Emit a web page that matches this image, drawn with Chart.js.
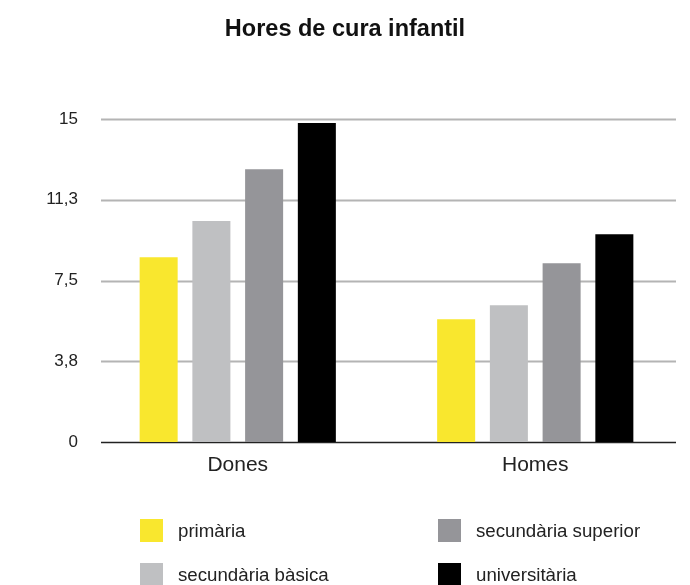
<!DOCTYPE html>
<html>
<head>
<meta charset="utf-8">
<script src="https://cdn.jsdelivr.net/npm/chart.js@4/dist/chart.umd.min.js"></script>
<style>
  body { margin: 0; background: #fff; font-family: "Liberation Sans", Arial, sans-serif; }
  #wrap { position: relative; width: 690px; height: 585px; overflow: hidden; }
  #title { position: absolute; left: 0; top: 15px; width: 690px; text-align: center; font-weight: bold; font-size: 23.5px; color: #111; }
  .item { position: absolute; font-size: 18.7px; color: #222; line-height: 23px; }
  .item span { position: absolute; left: 0; top: 0; width: 23px; height: 23px; }
  .item b { font-weight: normal; position: absolute; left: 38px; top: 0; white-space: nowrap; }
</style>
</head>
<body>
<div id="wrap">
  <canvas id="myChart" width="690" height="585"></canvas>
  <div id="title">Hores de cura infantil</div>
  <div id="legend"></div>
</div>
<script>
const categories = ["Dones", "Homes"];
const seriesNames = ["primària", "secundària bàsica", "secundària superior", "universitària"];
const primaria = [8.58, 5.70];
const secBasica = [10.26, 6.35];
const secSuperior = [12.67, 8.30];
const universitaria = [14.81, 9.65];
const colors = ["#f9e72e", "#bfc0c2", "#959599", "#000000"];
const yTickLabels = ["0", "3,8", "7,5", "11,3", "15"];

const values = [primaria, secBasica, secSuperior, universitaria];

// horizontal grid lines, shorter than the category area
const gridPlugin = {
  id: "shortGrid",
  beforeDatasetsDraw(chart) {
    const ctx = chart.ctx;
    const area = chart.chartArea;
    const y = chart.scales.y;
    const x0 = area.left + 17;
    const x1 = area.right - 8;
    ctx.save();
    y.ticks.forEach((t, i) => {
      const py = Math.round(y.getPixelForValue(t.value)) + 0.5;
      ctx.beginPath();
      if (i === 0) {
        ctx.strokeStyle = "#222";
        ctx.lineWidth = 1.5;
      } else {
        ctx.strokeStyle = "#b4b4b4";
        ctx.lineWidth = 2;
      }
      ctx.moveTo(x0 - 5, py);
      ctx.lineTo(x1, py);
      ctx.stroke();
    });
    ctx.restore();
  }
};

new Chart(document.getElementById("myChart").getContext("2d"), {
  type: "bar",
  data: {
    labels: categories,
    datasets: seriesNames.map((name, i) => ({
      label: name,
      data: values[i],
      backgroundColor: colors[i],
      borderWidth: 0,
      categoryPercentage: 0.709,
      barPercentage: 0.721
    }))
  },
  options: {
    responsive: false,
    animation: false,
    layout: { padding: { top: 119, right: 6, bottom: 0, left: 0 } },
    plugins: {
      legend: { display: false },
      title: { display: false },
      tooltip: { enabled: false }
    },
    scales: {
      x: {
        grid: { display: false, drawTicks: false },
        border: { display: false },
        ticks: { color: "#222", font: { family: "Liberation Sans", size: 21 }, padding: 11 },
        afterFit(scale) { scale.height = 143; }
      },
      y: {
        min: 0,
        max: 15,
        grid: { display: false, drawTicks: false },
        border: { display: false },
        afterBuildTicks(scale) {
          scale.ticks = yTickLabels.map((_, i) => ({ value: i * 3.75 }));
        },
        ticks: {
          color: "#222",
          font: { family: "Liberation Sans", size: 17 },
          padding: 11,
          callback: (v, i) => yTickLabels[i]
        },
        afterFit(scale) { scale.width = 89; }
      }
    }
  },
  plugins: [gridPlugin]
});

// legend in two columns
const legend = document.getElementById("legend");
const pos = [[140, 519], [140, 563], [438, 519], [438, 563]];
seriesNames.forEach((name, i) => {
  const d = document.createElement("div");
  d.className = "item";
  d.style.left = pos[i][0] + "px";
  d.style.top = pos[i][1] + "px";
  d.innerHTML = '<span style="background:' + colors[i] + '"></span><b>' + name + '</b>';
  legend.appendChild(d);
});
</script>
</body>
</html>
